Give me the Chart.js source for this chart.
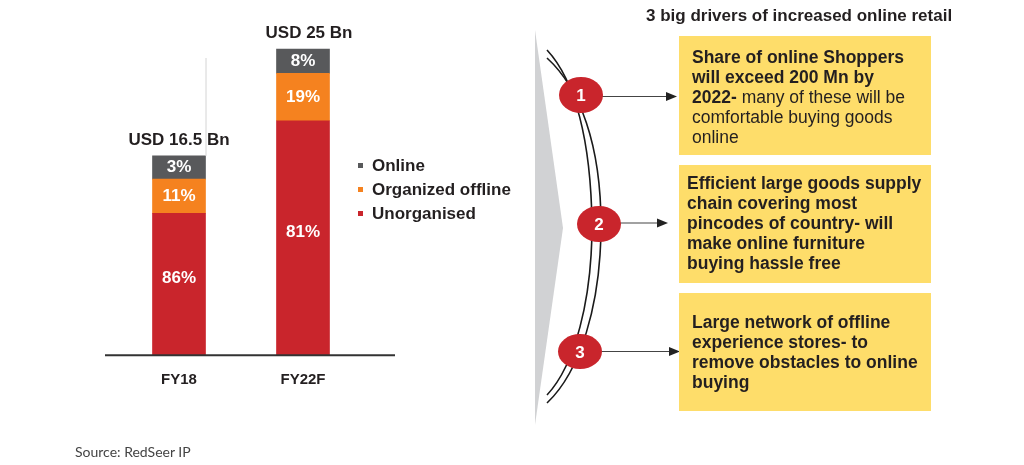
<!DOCTYPE html>
<html>
<head>
<meta charset="utf-8">
<script src="https://cdn.jsdelivr.net/npm/chart.js@4.4.1/dist/chart.umd.min.js"></script>
<style>
  body { margin: 0; background: #fff; }
  #wrap { position: relative; width: 1024px; height: 465px; overflow: hidden; background: #fff;
          font-family: "Liberation Sans", Arial, sans-serif; color: #231f20; }
  #chartBox { position: absolute; left: 0; top: 0; width: 520px; height: 465px; }
  #deco { position: absolute; left: 0; top: 0; }
  .legend { position: absolute; left: 357px; top: 154px; font-weight: bold; font-size: 17px; }
  .legend div { position: relative; height: 24px; line-height: 24px; padding-left: 15px; white-space: nowrap; }
  .legend span { position: absolute; left: 1px; top: 9px; width: 5px; height: 5px; }
  .box { position: absolute; left: 679px; width: 252px; background: #fedd6a; }
  .txt { position: absolute; font-size: 17.5px; line-height: 20px; white-space: nowrap; color: #231f20; }
  .b { font-weight: bold; }
  .title { position: absolute; left: 646px; top: 6px; font-size: 17px; font-weight: bold; white-space: nowrap; }
  .source { position: absolute; left: 75px; top: 443px; font-family: Lato, sans-serif; font-size: 14px; color: #444; }
</style>
</head>
<body>
<div id="wrap">
  <div id="chartBox"><canvas id="chart"></canvas></div>
  <div class="legend" id="legend"></div>

  <svg id="deco" width="1024" height="465">
    <polygon points="535,30 563,228 535,425" fill="#d1d2d4"/>
    <path d="M547,50 C575,80 591,140 592,225 C592,300 575,365 547,395" fill="none" stroke="#1a1a1a" stroke-width="1.6"/>
    <path d="M547,58 C580,88 601,145 601,225 C601,305 580,372 547,403" fill="none" stroke="#1a1a1a" stroke-width="1.6"/>
    <line x1="600" y1="96.5" x2="668" y2="96.5" stroke="#444" stroke-width="1.2"/>
    <polygon points="666,92 677,96.5 666,101" fill="#222"/>
    <line x1="618" y1="223" x2="659" y2="223" stroke="#444" stroke-width="1.2"/>
    <polygon points="657,218.5 668,223 657,227.5" fill="#222"/>
    <line x1="600" y1="351.5" x2="671" y2="351.5" stroke="#444" stroke-width="1.2"/>
    <polygon points="669,347 680,351.5 669,356" fill="#222"/>
    <ellipse cx="581" cy="95" rx="22" ry="18" fill="#c9252c"/>
    <ellipse cx="599" cy="224" rx="22" ry="18" fill="#c9252c"/>
    <ellipse cx="580" cy="351.5" rx="22" ry="17.5" fill="#c9252c"/>
    <g font-family="Liberation Sans, Arial, sans-serif" font-weight="bold" font-size="17" fill="#fff" text-anchor="middle">
      <text x="581" y="101">1</text>
      <text x="599" y="230">2</text>
      <text x="580" y="357.5">3</text>
    </g>
  </svg>

  <div class="title">3 big drivers of increased online retail</div>

  <div class="box" style="top:36px;height:119px;"></div>
  <div class="txt" style="left:692px;top:46.5px;">
    <span class="b">Share of online Shoppers</span><br>
    <span class="b">will exceed 200 Mn by</span><br>
    <span class="b">2022-</span> many of these will be<br>
    comfortable buying goods<br>
    online
  </div>

  <div class="box" style="top:165px;height:118px;"></div>
  <div class="txt b" style="left:687px;top:173px;">
    Efficient large goods supply<br>
    chain covering most<br>
    pincodes of country- will<br>
    make online furniture<br>
    buying hassle free
  </div>

  <div class="box" style="top:293px;height:118px;"></div>
  <div class="txt b" style="left:692px;top:311.5px;">
    Large network of offline<br>
    experience stores- to<br>
    remove obstacles to online<br>
    buying
  </div>

  <div class="source">Source: RedSeer IP</div>
</div>

<script>
// categories and series
const categories = ["FY18", "FY22F"];
const seriesNames = ["Unorganised", "Organized offline", "Online"];
const seriesColors = ["#c9252c", "#f5821f", "#58595b"];

// segment heights as drawn in the picture (USD Bn scale)
const unorganised = [11.6, 19.15];
const organizedOffline = [2.78, 3.87];
const online = [1.9, 1.98];

// labels printed on the segments and above the bars
const unorganisedShare = ["86%", "81%"];
const organizedOfflineShare = ["11%", "19%"];
const onlineShare = ["3%", "8%"];
const totals = ["USD 16.5 Bn", "USD 25 Bn"];

const FONT = '"Liberation Sans", Arial, sans-serif';

// legend (top item = top segment)
const legendEl = document.getElementById("legend");
[2, 1, 0].forEach(i => {
    const row = document.createElement("div");
    row.innerHTML = '<span style="background:' + seriesColors[i] + '"></span>' + seriesNames[i];
    legendEl.appendChild(row);
});

const segmentLabels = {
    id: "segmentLabels",
    afterDatasetsDraw(chart) {
        const ctx = chart.ctx;
        const shares = [unorganisedShare, organizedOfflineShare, onlineShare];
        ctx.save();
        ctx.textAlign = "center";
        ctx.textBaseline = "middle";

        // baseline, wider than the plot
        const y0 = chart.scales.y.getPixelForValue(0);
        ctx.strokeStyle = "#333";
        ctx.lineWidth = 2;
        ctx.beginPath();
        ctx.moveTo(chart.chartArea.left - 12, y0);
        ctx.lineTo(chart.chartArea.right + 30, y0);
        ctx.stroke();

        ctx.font = "bold 17px " + FONT;
        ctx.fillStyle = "#fff";
        chart.data.datasets.forEach((ds, di) => {
            chart.getDatasetMeta(di).data.forEach((bar, i) => {
                const shift = di === 0 ? -6 : 0;
                ctx.fillText(shares[di][i], bar.x, (bar.y + bar.base) / 2 + shift);
            });
        });

        const topMeta = chart.getDatasetMeta(chart.data.datasets.length - 1);
        topMeta.data.forEach((bar, i) => {
            // faint guide line at right edge of first bar
            if (i === 0) {
                ctx.strokeStyle = "#d4d4d4";
                ctx.lineWidth = 1;
                ctx.beginPath();
                ctx.moveTo(bar.x + bar.width / 2 + 0.5, 58);
                ctx.lineTo(bar.x + bar.width / 2 + 0.5, bar.y);
                ctx.stroke();
            }
            ctx.fillStyle = "#231f20";
            ctx.fillText(totals[i], bar.x + (i === 1 ? 6 : 0), bar.y - 16);
        });
        ctx.restore();
    }
};

new Chart(document.getElementById("chart"), {
    type: "bar",
    data: {
        labels: categories,
        datasets: [
            { label: seriesNames[0], data: unorganised, backgroundColor: seriesColors[0] },
            { label: seriesNames[1], data: organizedOffline, backgroundColor: seriesColors[1] },
            { label: seriesNames[2], data: online, backgroundColor: seriesColors[2] }
        ]
    },
    options: {
        responsive: true,
        maintainAspectRatio: false,
        animation: false,
        layout: { padding: { left: 117, right: 155, top: 30.7, bottom: 79.7 } },
        datasets: { bar: { barThickness: 53, borderWidth: 0 } },
        plugins: { legend: { display: false }, tooltip: { enabled: false } },
        scales: {
            x: {
                stacked: true,
                grid: { display: false },
                border: { display: false },
                afterFit: s => { s.height = 30; },
                ticks: { color: "#231f20", font: { family: FONT, size: 15, weight: "bold" }, padding: 8 }
            },
            y: { stacked: true, display: false, min: 0, max: 26.5 }
        }
    },
    plugins: [segmentLabels]
});
</script>
</body>
</html>
